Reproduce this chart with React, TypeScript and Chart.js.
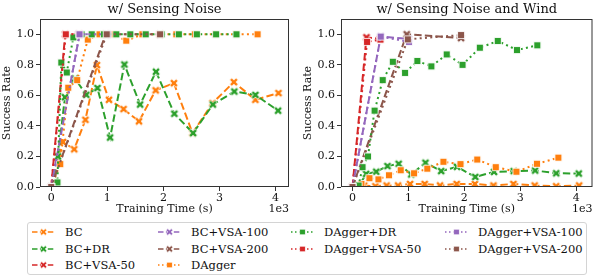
import React, { useEffect, useRef } from "react";
import { Chart, registerables } from "chart.js";

Chart.register(...registerables);

// ---------------- data ----------------
const seriesNames = [
  "BC", "BC+DR", "BC+VSA-50", "BC+VSA-100", "BC+VSA-200",
  "DAgger", "DAgger+DR", "DAgger+VSA-50", "DAgger+VSA-100", "DAgger+VSA-200",
];
const panelTitles = ["w/ Sensing Noise", "w/ Sensing Noise and Wind"];
const xTicks = [0, 1000, 2000, 3000, 4000];
const yTicks = [0, 0.2, 0.4, 0.6, 0.8, 1.0];

const bcTime = [0, 210, 410, 610, 815, 1030, 1290, 1565, 1862, 2188, 2520, 2876, 3256, 3640, 4052];
const bcNoise = [0, 0.295, 0.247, 0.44, 0.798, 0.571, 0.51, 0.43, 0.633, 0.68, 0.353, 0.549, 0.687, 0.571, 0.615];
const bcWind = [0, 0.01, 0.005, 0.01, 0.01, 0.02, 0.02, 0.01, 0.02, 0.02, 0.01, 0.02, 0.01, 0.005, 0.01];

const bcDrTime = [0, 120, 245, 425, 625, 825, 1050, 1305, 1585, 1868, 2195, 2530, 2882, 3265, 3641, 4045];
const bcDrNoise = [0, 0.2, 0.588, 0.71, 0.604, 0.648, 0.324, 0.802, 0.54, 0.755, 0.48, 0.353, 0.54, 0.625, 0.603, 0.5];
const bcDrWind = [0, 0.01, 0.086, 0.1, 0.137, 0.152, 0.082, 0.159, 0.104, 0.132, 0.066, 0.099, 0.104, 0.108, 0.09, 0.088];

const bcVsa50Time = [0, 250, 490];
const bcVsa50Noise = [0, 1, 1];
const bcVsa50Wind = [0, 0.98, 0.97];

const bcVsa100Time = [0, 505, 1000];
const bcVsa100Noise = [0, 1, 1];
const bcVsa100Wind = [0, 0.985, 0.97];

const bcVsa200Time = [0, 970, 1940];
const bcVsa200Noise = [0, 1, 1];
const bcVsa200Wind = [0, 1.0, 0.975];

const daggerTime = [0, 160, 303, 463, 652, 862, 1100, 1337, 1625, 1930, 2230, 2561, 2930, 3298, 3680];
const daggerNoise = [0, 0.15, 0.65, 0.7, 0.965, 1, 1, 0.958, 1, 1, 1, 1, 1, 1, 1];
const daggerWind = [0, 0.02, 0.058, 0.05, 0.077, 0.11, 0.09, 0.12, 0.165, 0.15, 0.18, 0.13, 0.1, 0.152, 0.192];

const daggerDrTime = [0, 110, 180, 277, 395, 541, 722, 939, 1160, 1410, 1685, 1967, 2276, 2597, 2940, 3303];
const daggerDrNoise = [0, 0.03, 0.815, 0.75, 0.98, 1, 1, 1, 1, 1, 1, 1, 1, 1, 1, 1];
const daggerDrWind = [0, 0.01, 0.13, 0.2, 0.5, 0.7, 0.82, 0.747, 0.825, 0.79, 0.868, 0.8, 0.912, 0.956, 0.897, 0.928];

const daggerVsa50Time = [0, 260, 500];
const daggerVsa50Noise = [0, 1, 1];
const daggerVsa50Wind = [0, 0.95, 0.965];

const daggerVsa100Time = [0, 505, 1010];
const daggerVsa100Noise = [0, 1, 1];
const daggerVsa100Wind = [0, 0.985, 0.95];

const daggerVsa200Time = [0, 990, 1940];
const daggerVsa200Noise = [0, 1, 1];
const daggerVsa200Wind = [0, 0.967, 0.995];

const seriesTimes = [bcTime, bcDrTime, bcVsa50Time, bcVsa100Time, bcVsa200Time,
  daggerTime, daggerDrTime, daggerVsa50Time, daggerVsa100Time, daggerVsa200Time];
const noiseValues = [bcNoise, bcDrNoise, bcVsa50Noise, bcVsa100Noise, bcVsa200Noise,
  daggerNoise, daggerDrNoise, daggerVsa50Noise, daggerVsa100Noise, daggerVsa200Noise];
const windValues = [bcWind, bcDrWind, bcVsa50Wind, bcVsa100Wind, bcVsa200Wind,
  daggerWind, daggerDrWind, daggerVsa50Wind, daggerVsa100Wind, daggerVsa200Wind];

// legend layout: column of each series (matplotlib column-major fill, 3/3/2/2)
const legendColumnOf = [0, 0, 0, 1, 1, 1, 2, 2, 3, 3];
const legendRowOf = [0, 1, 2, 0, 1, 2, 0, 1, 0, 1];

// ---------------- styles ----------------
const palette = ["#ff7f0e", "#2ca02c", "#d62728", "#9467bd", "#8c564b"];
const FONT = "'DejaVu Serif', serif";
const DASHED = [7.4, 3.2];
const DOTTED = [2, 3.3];

function seriesStyle(i: number) {
  const color = palette[i % 5];
  const isBC = i < 5;
  return { color, dash: isBC ? DASHED : DOTTED, marker: isBC ? "x" : "s" };
}

function xPoly(cx: number, cy: number, a: number, b: number) {
  const pts = [[-b, a], [b, a], [b, b], [a, b], [a, -b], [b, -b], [b, -a], [-b, -a], [-b, -b], [-a, -b], [-a, b], [-b, b]];
  const c = Math.SQRT1_2;
  return pts.map(([x, y]) => [cx + (x - y) * c, cy + (x + y) * c]);
}

function makeMarker(color: string, kind: string) {
  const cv = document.createElement("canvas");
  cv.width = 12;
  cv.height = 12;
  const ctx = cv.getContext("2d")!;
  ctx.fillStyle = color;
  ctx.strokeStyle = "#ffffff";
  ctx.lineWidth = 0.8;
  if (kind === "x") {
    const p = xPoly(6, 6, 4.5, 1.5);
    ctx.beginPath();
    p.forEach(([x, y], k) => (k ? ctx.lineTo(x, y) : ctx.moveTo(x, y)));
    ctx.closePath();
    ctx.fill();
    ctx.stroke();
  } else {
    ctx.fillRect(2.6, 2.6, 6.8, 6.8);
    ctx.strokeRect(2.6, 2.6, 6.8, 6.8);
  }
  return cv;
}

function decorPlugin(title: string, yLabelX: number) {
  return {
    id: "decor",
    afterDraw(chart: any) {
      const { ctx, chartArea: a } = chart;
      ctx.save();
      ctx.strokeStyle = "#333333";
      ctx.lineWidth = 1;
      ctx.strokeRect(a.left + 0.5, a.top + 0.5, a.right - a.left - 1, a.bottom - a.top - 1);
      ctx.fillStyle = "#111111";
      ctx.textBaseline = "middle";
      ctx.textAlign = "center";
      ctx.font = `13px ${FONT}`;
      ctx.fillText(title, (a.left + a.right) / 2, 10);
      ctx.font = `11px ${FONT}`;
      ctx.fillText("Training Time (s)", (a.left + a.right) / 2, 209);
      ctx.textAlign = "right";
      ctx.fillText("1e3", a.right, 209);
      ctx.translate(yLabelX, (a.top + a.bottom) / 2);
      ctx.rotate(-Math.PI / 2);
      ctx.textAlign = "center";
      ctx.fillText("Success Rate", 0, 0);
      ctx.restore();
    },
  };
}

function buildChart(canvas: HTMLCanvasElement, panel: number) {
  const values = panel === 0 ? noiseValues : windValues;
  const datasets = seriesNames.map((name, i) => {
    const st = seriesStyle(i);
    const marker = makeMarker(st.color, st.marker);
    return {
      label: name,
      data: seriesTimes[i].map((t, k) => ({ x: t, y: values[i][k] })),
      borderColor: st.color,
      backgroundColor: st.color,
      borderWidth: 2,
      borderDash: st.dash,
      borderCapStyle: "butt",
      fill: false,
      tension: 0,
      pointStyle: marker,
      pointRadius: 3.5,
      pointHoverRadius: 3.5,
      order: 20 - i,
    };
  });
  const yW = panel === 0 ? 40 : 41;
  const xMin = panel === 0 ? -200 : -205;
  const xMax = panel === 0 ? 4240 : 4290;
  const tickColor = "#333333";
  return new Chart(canvas, {
    type: "line",
    data: { datasets: datasets as any },
    plugins: [decorPlugin(panelTitles[panel], panel === 0 ? 7 : 8) as any],
    options: {
      responsive: false,
      animation: false,
      events: [],
      layout: { padding: { top: 19, right: panel === 0 ? 7 : 5, bottom: 0, left: 0 } },
      plugins: { legend: { display: false }, title: { display: false }, tooltip: { enabled: false } },
      scales: {
        x: {
          type: "linear",
          min: xMin,
          max: xMax,
          border: { display: false },
          grid: { drawOnChartArea: false, drawTicks: true, tickLength: 4, color: tickColor, lineWidth: 1 },
          afterBuildTicks: (s: any) => { s.ticks = xTicks.map((v) => ({ value: v })); },
          afterFit: (s: any) => {
            s.height = 28;
            s.paddingLeft = 0; s.paddingRight = 0; s.paddingTop = 0; s.paddingBottom = 0;
          },
          ticks: {
            font: { family: FONT, size: 11 },
            color: "#111111",
            padding: 1,
            maxRotation: 0,
            autoSkip: false,
            callback: (v: any) => String(Number(v) / 1000),
          },
        },
        y: {
          type: "linear",
          min: 0,
          max: 1.1,
          border: { display: false },
          grid: { drawOnChartArea: false, drawTicks: true, tickLength: 4, color: tickColor, lineWidth: 1 },
          afterBuildTicks: (s: any) => { s.ticks = yTicks.map((v) => ({ value: v })); },
          afterFit: (s: any) => {
            s.width = yW;
            s.paddingLeft = 0; s.paddingRight = 0; s.paddingTop = 0; s.paddingBottom = 0;
          },
          ticks: {
            font: { family: FONT, size: 11 },
            color: "#111111",
            padding: 2,
            autoSkip: false,
            callback: (v: any) => Number(v).toFixed(1),
          },
        },
      },
    } as any,
  });
}

function LegendMarker({ color, kind }: { color: string; kind: string }) {
  if (kind === "x") {
    const p = xPoly(11.5, 5, 3.6, 1.2);
    return <polygon points={p.map(([x, y]) => `${x},${y}`).join(" ")} fill={color} stroke="#fff" strokeWidth={0.7} />;
  }
  return <rect x={8.7} y={2.2} width={5.6} height={5.6} fill={color} stroke="#fff" strokeWidth={0.7} />;
}

const legendCols = [
  { handle: 32, text: 65 },
  { handle: 158, text: 191 },
  { handle: 291, text: 324 },
  { handle: 445, text: 478 },
];
const legendRows = [232, 248.7, 265.3];

function Legend() {
  return (
    <>
      <div style={{ position: "absolute", left: 27, top: 222, width: 560, height: 53, border: "1px solid #d4d4d4", borderRadius: 3, boxSizing: "border-box", background: "#fff" }} />
      {seriesNames.map((name, i) => {
        const st = seriesStyle(i);
        const cy = legendRows[legendRowOf[i]];
        const c = legendCols[legendColumnOf[i]];
        return (
          <React.Fragment key={name}>
            <svg style={{ position: "absolute", left: c.handle, top: cy - 5 }} width={23} height={10}>
              <line x1={0} y1={5} x2={23} y2={5} stroke={st.color} strokeWidth={1.6} strokeDasharray={st.dash === DASHED ? "5.5 2.4" : "1.5 2.5"} />
              <LegendMarker color={st.color} kind={st.marker} />
            </svg>
            <div style={{ position: "absolute", left: c.text, top: cy - 8, height: 16, lineHeight: "16px", fontFamily: FONT, fontSize: 11.5, color: "#111", whiteSpace: "nowrap" }}>{name}</div>
          </React.Fragment>
        );
      })}
    </>
  );
}

export default function App() {
  const leftRef = useRef<HTMLCanvasElement>(null);
  const rightRef = useRef<HTMLCanvasElement>(null);
  useEffect(() => {
    const c1 = buildChart(leftRef.current!, 0);
    const c2 = buildChart(rightRef.current!, 1);
    return () => { c1.destroy(); c2.destroy(); };
  }, []);
  return (
    <div style={{ position: "fixed", left: 0, top: 0, width: 598, height: 277, background: "#fff", overflow: "hidden" }}>
      <canvas ref={leftRef} width={296} height={215} style={{ position: "absolute", left: 0, top: 0, width: 296, height: 215 }} />
      <canvas ref={rightRef} width={298} height={215} style={{ position: "absolute", left: 300, top: 0, width: 298, height: 215 }} />
      <Legend />
    </div>
  );
}
